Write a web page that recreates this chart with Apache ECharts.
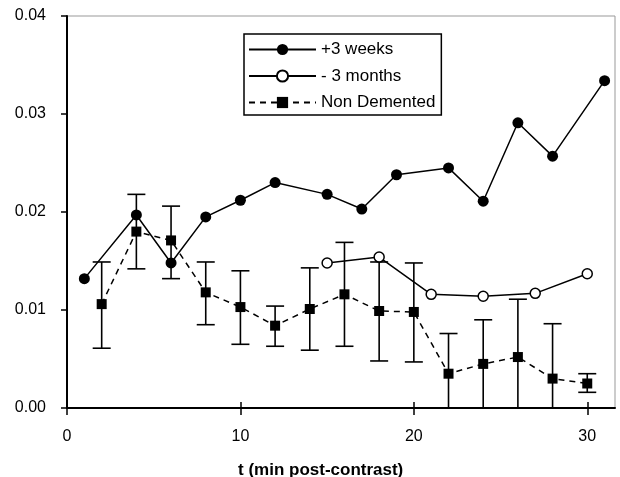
<!DOCTYPE html>
<html><head><meta charset="utf-8">
<script src="https://cdn.jsdelivr.net/npm/echarts@6/dist/echarts.min.js"></script>
<style>html,body{margin:0;padding:0;background:#fff}#c{width:620px;height:477px}</style>
</head><body><div id="c"></div>
<script>
var weeksT = [1, 4, 6, 8, 10, 12, 15, 17, 19, 22, 24, 26, 28, 31];
var weeksV = [0.0132, 0.0197, 0.0148, 0.0195, 0.0212, 0.0230, 0.0218, 0.0203, 0.0238, 0.0245, 0.0211, 0.0291, 0.0257, 0.0334];
var monthsT = [15, 18, 21, 24, 27, 30];
var monthsV = [0.0148, 0.0154, 0.0116, 0.0114, 0.0117, 0.0137];
var ndT = [2, 4, 6, 8, 10, 12, 14, 16, 18, 20, 22, 24, 26, 28, 30];
var ndV = [0.0106, 0.0180, 0.0171, 0.0118, 0.0103, 0.0084, 0.0101, 0.0116, 0.0099, 0.0098, 0.0035, 0.0045, 0.0052, 0.0030, 0.0025];
var ndLow = [0.0061, 0.0142, 0.0132, 0.0085, 0.0065, 0.0063, 0.0059, 0.0063, 0.0048, 0.0047, -0.0005, 0.0000, -0.0006, -0.0027, 0.0016];
var ndHigh = [0.0149, 0.0218, 0.0206, 0.0149, 0.0140, 0.0104, 0.0143, 0.0169, 0.0149, 0.0148, 0.0076, 0.0090, 0.0111, 0.0086, 0.0035];
var xTicks = [0, 10, 20, 30];
var yTicks = [0, 0.01, 0.02, 0.03, 0.04];
var names = ['+3 weeks', '- 3 months', 'Non Demented'];

function zip(a, b) { return a.map(function (v, i) { return [v, b[i]]; }); }
var errData = ndT.map(function (t, i) { return [t, ndLow[i], ndHigh[i]]; });

var chart = echarts.init(document.getElementById('c'), null, {renderer: 'canvas'});
var font = 'Liberation Sans, Arial, sans-serif';
chart.setOption({
  animation: false,
  backgroundColor: '#fff',
  textStyle: {fontFamily: font},
  grid: {left: 67, top: 16, right: 5, bottom: 69, show: true, borderColor: '#999', borderWidth: 1},
  title: {text: 't (min post-contrast)', left: 233, top: 457,
    textStyle: {fontSize: 17, fontWeight: 'bold', color: '#000', fontFamily: font}},
  legend: {
    orient: 'vertical', left: 244, top: 34, data: names,
    backgroundColor: '#fff', borderColor: '#000', borderWidth: 1.5,
    padding: [7, 6, 4, 4], itemWidth: 67, itemHeight: 14, itemGap: 9.5,
    textStyle: {fontSize: 17, color: '#000', fontFamily: font}
  },
  xAxis: [{
    type: 'value', min: 0, max: 31.6, interval: 10, position: 'bottom',
    splitLine: {show: false},
    axisLine: {lineStyle: {color: '#000', width: 2}},
    axisTick: {length: 7, lineStyle: {color: '#000', width: 1.5}, customValues: xTicks},
    axisLabel: {fontSize: 16, color: '#000', margin: 21, customValues: xTicks, fontFamily: font}
  }, {
    type: 'value', min: 0, max: 31.6, interval: 10, position: 'bottom',
    splitLine: {show: false},
    axisLine: {show: false},
    axisTick: {inside: true, length: 6, lineStyle: {color: '#000', width: 1.5}, customValues: xTicks},
    axisLabel: {show: false}
  }],
  yAxis: {
    type: 'value', min: 0, max: 0.04, interval: 0.01,
    splitLine: {show: false},
    axisLine: {show: true, lineStyle: {color: '#000', width: 2}},
    axisTick: {show: true, length: 6, lineStyle: {color: '#000', width: 1.5}, customValues: yTicks},
    axisLabel: {fontSize: 16, color: '#000', margin: 21, customValues: yTicks, fontFamily: font,
      formatter: function (v) { return v.toFixed(2); }}
  },
  series: [
    {
      type: 'custom', name: 'err', clip: true, z: 1,
      data: errData,
      encode: {x: 0, y: [1, 2]},
      renderItem: function (params, api) {
        var x = api.value(0);
        var lo = api.coord([x, api.value(1)]);
        var hi = api.coord([x, api.value(2)]);
        var w = 9;
        var st = {stroke: '#000', lineWidth: 1.6};
        return {type: 'group', children: [
          {type: 'line', shape: {x1: lo[0], y1: lo[1], x2: hi[0], y2: hi[1]}, style: st},
          {type: 'line', shape: {x1: lo[0] - w, y1: lo[1], x2: lo[0] + w, y2: lo[1]}, style: st},
          {type: 'line', shape: {x1: hi[0] - w, y1: hi[1], x2: hi[0] + w, y2: hi[1]}, style: st}
        ]};
      }
    },
    {
      name: names[0], type: 'line', data: zip(weeksT, weeksV), z: 3,
      symbol: 'circle', symbolSize: 11,
      lineStyle: {color: '#000', width: 1.5},
      itemStyle: {color: '#000', borderColor: '#000', borderWidth: 0}
    },
    {
      name: names[1], type: 'line', data: zip(monthsT, monthsV), z: 3,
      symbol: 'circle', symbolSize: 10,
      lineStyle: {color: '#000', width: 1.5},
      itemStyle: {color: '#fff', borderColor: '#000', borderWidth: 1.5}
    },
    {
      name: names[2], type: 'line', data: zip(ndT, ndV), z: 2,
      symbol: 'rect', symbolSize: 10,
      lineStyle: {color: '#000', width: 1.5, type: [6, 5]},
      itemStyle: {color: '#000', borderWidth: 0}
    }
  ]
});
</script></body></html>
